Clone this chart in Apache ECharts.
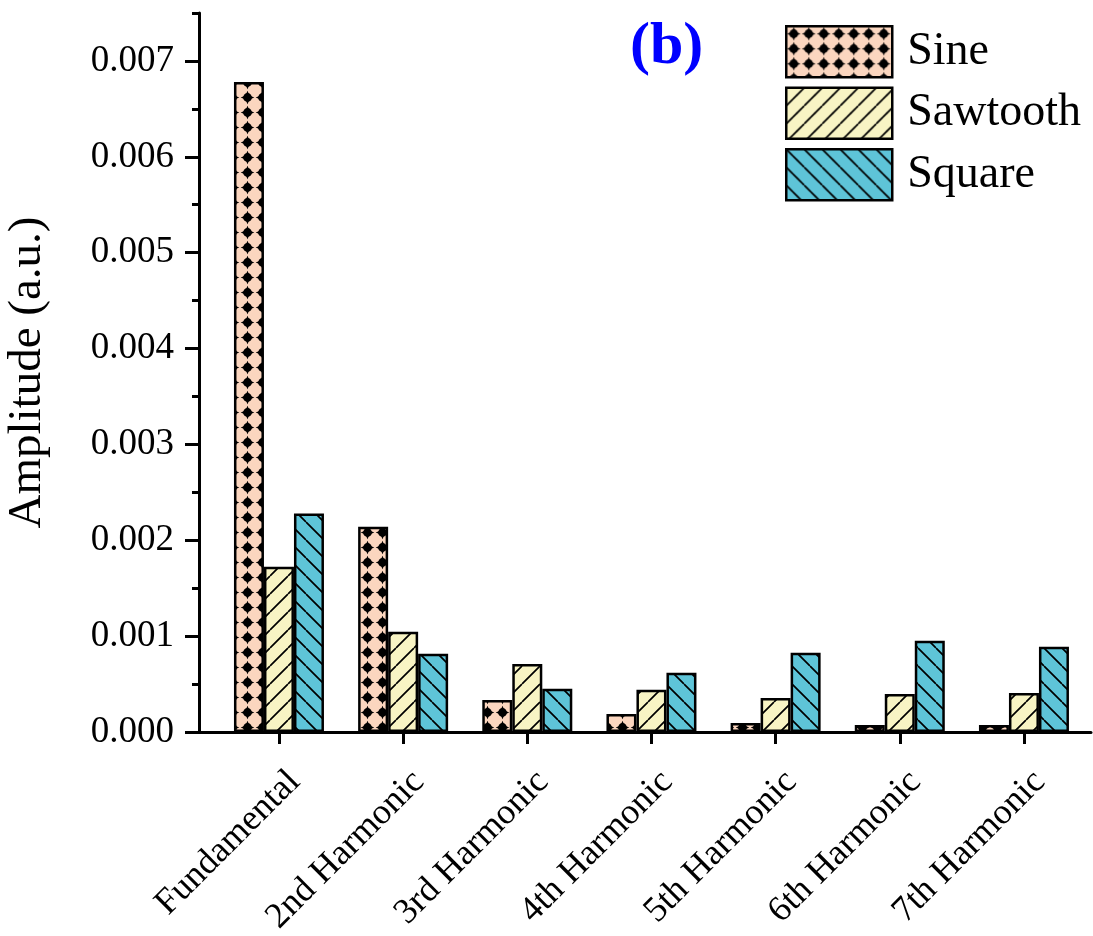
<!DOCTYPE html>
<html><head><meta charset="utf-8">
<script src="https://cdn.jsdelivr.net/npm/echarts@6/dist/echarts.min.js"></script>
<style>html,body{margin:0;padding:0;background:#fff}#c{width:1093px;height:936px}</style>
</head><body><div id="c"></div><script>
const categories = ['Fundamental','2nd Harmonic','3rd Harmonic','4th Harmonic','5th Harmonic','6th Harmonic','7th Harmonic'];
const sine = [0.00678, 0.00214, 0.000334, 0.000188, 0.000094, 0.000073, 0.000073];
const sawtooth = [0.001724, 0.001045, 0.00071, 0.00044, 0.000355, 0.000397, 0.000408];
const square = [0.00228, 0.000815, 0.00045, 0.000617, 0.000826, 0.000951, 0.000888];
const yTicks = [0, 0.001, 0.002, 0.003, 0.004, 0.005, 0.006, 0.007];
const yMinorTicks = [0.0005, 0.0015, 0.0025, 0.0035, 0.0045, 0.0055, 0.0065, 0.0075];
const xTicks = [0, 1, 2, 3, 4, 5, 6];

const FONT = '"Liberation Serif", "Times New Roman", serif';

function hatch(bg, dir) {
  const s = 18;
  const c = document.createElement('canvas');
  c.width = s; c.height = s;
  const g = c.getContext('2d');
  g.fillStyle = bg; g.fillRect(0, 0, s, s);
  g.strokeStyle = '#000'; g.lineWidth = 1.7;
  g.beginPath();
  for (let k = -1; k <= 1; k++) {
    if (dir === '/') { g.moveTo(k * s, s); g.lineTo(k * s + s, 0); }
    else { g.moveTo(k * s, 0); g.lineTo(k * s + s, s); }
  }
  g.stroke();
  return { image: c, repeat: 'repeat' };
}
function dots(bg) {
  const s = 15;
  const c = document.createElement('canvas');
  c.width = s; c.height = s;
  const g = c.getContext('2d');
  g.fillStyle = bg; g.fillRect(0, 0, s, s);
  g.fillStyle = '#000';
  const cx = s / 2, cy = s / 2;
  g.beginPath(); g.arc(cx, cy, 4.4, 0, Math.PI * 2); g.fill();
  const R = 6.8, r = 2.8;
  g.beginPath();
  for (let i = 0; i < 8; i++) {
    const a = i * Math.PI / 4 - Math.PI / 2;
    const rr = i % 2 === 0 ? R : r;
    const x = cx + rr * Math.cos(a), y = cy + rr * Math.sin(a);
    if (i === 0) g.moveTo(x, y); else g.lineTo(x, y);
  }
  g.closePath(); g.fill();
  return { image: c, repeat: 'repeat' };
}

const chart = echarts.init(document.getElementById('c'));
const barStyle = (color) => ({ color: color, borderColor: '#000', borderWidth: 2.5 });
const mk = (name, vals, color) => ({
  name: name, type: 'bar', xAxisIndex: 0, yAxisIndex: 0,
  data: vals.map((v, i) => [i, v]),
  barWidth: 30, barGap: '0%',
  itemStyle: barStyle(color),
  emphasis: { disabled: true }
});

chart.setOption({
  animation: false,
  backgroundColor: '#fff',
  title: {
    text: '(b)', left: 625, top: 12,
    textStyle: { fontFamily: FONT, fontSize: 60, fontWeight: 'bold', color: '#0000ff' }
  },
  legend: {
    orient: 'vertical', left: 785, top: 25, padding: 0,
    itemWidth: 106, itemHeight: 51, itemGap: 8,
    icon: 'rect',
    itemStyle: { borderColor: '#000', borderWidth: 2.5 },
    textStyle: { fontFamily: FONT, fontSize: 46, color: '#000', padding: [0, 0, 0, 10] },
    data: ['Sine', 'Sawtooth', 'Square']
  },
  grid: { left: 199, right: 2, top: 13, bottom: 204, containLabel: false, outerBoundsMode: 'none' },
  xAxis: {
    type: 'value', min: -0.644, max: 6.54,
    axisLine: { show: true, onZero: false, lineStyle: { color: '#000', width: 3 } },
    axisTick: { show: true, customValues: xTicks, length: 12, lineStyle: { color: '#000', width: 3 } },
    axisLabel: {
      customValues: xTicks, rotate: 45, margin: 60,
      formatter: (v) => categories[Math.round(v)],
      fontFamily: FONT, fontSize: 36, color: '#000',
      padding: [0, -22, 0, 0]
    },
    splitLine: { show: false }
  },
  yAxis: [{
    type: 'value', min: 0, max: 0.0075, position: 'left',
    name: 'Amplitude (a.u.)', nameLocation: 'middle', nameRotate: 90, nameGap: 148,
    nameTextStyle: { fontFamily: FONT, fontSize: 47, color: '#000' },
    axisLine: { show: true, onZero: false, lineStyle: { color: '#000', width: 3 } },
    axisTick: { show: true, customValues: yTicks, length: 14, lineStyle: { color: '#000', width: 3 } },
    axisLabel: {
      customValues: yTicks, margin: 25,
      formatter: (v) => v.toFixed(3),
      fontFamily: FONT, fontSize: 37, color: '#000'
    },
    splitLine: { show: false }
  }, {
    type: 'value', min: 0, max: 0.0075, position: 'left',
    axisLine: { show: false, onZero: false },
    axisTick: { show: true, customValues: yMinorTicks, length: 7, lineStyle: { color: '#000', width: 3 } },
    axisLabel: { show: false },
    splitLine: { show: false }
  }],
  series: [
    mk('Sine', sine, dots('#fbd6bf')),
    mk('Sawtooth', sawtooth, hatch('#f8f4c4', '/')),
    mk('Square', square, hatch('#5ec4d8', '\\'))
  ]
});
</script></body></html>
